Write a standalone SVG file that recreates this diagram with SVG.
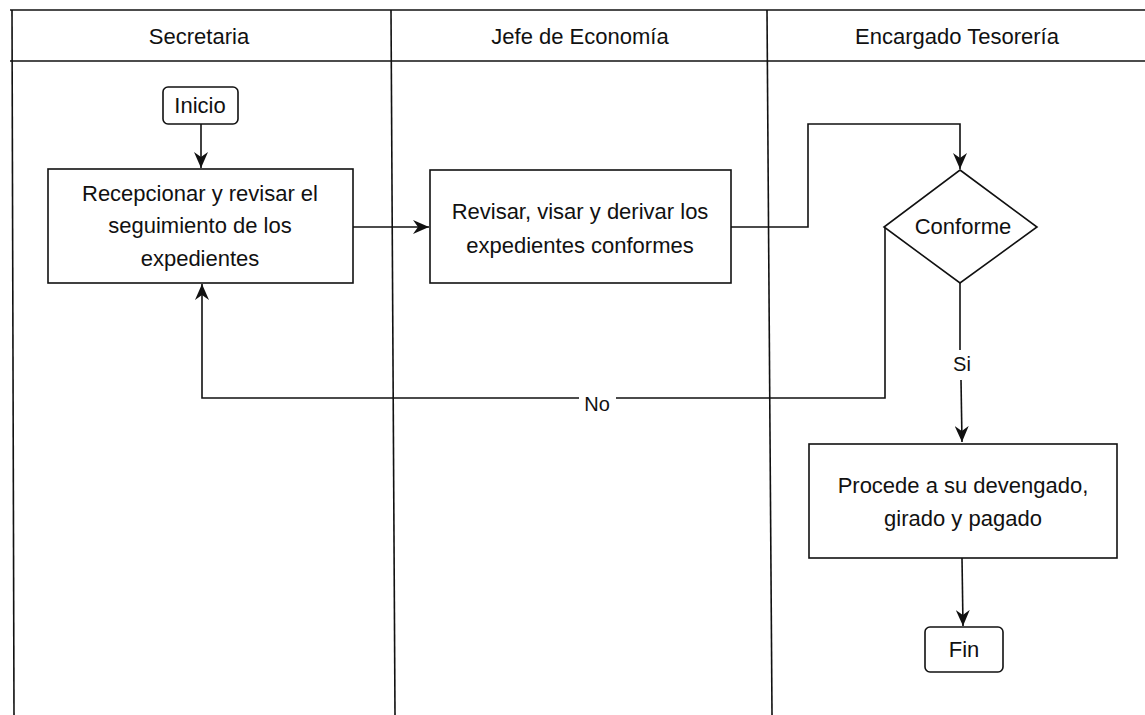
<svg xmlns="http://www.w3.org/2000/svg" width="1145" height="715" viewBox="0 0 1145 715">
<defs>
<style>
.ln{fill:none;stroke:#111;stroke-width:1.6}
.nd{fill:#fff;stroke:#111;stroke-width:1.6}
.t{font-family:"Liberation Sans",Arial,sans-serif;font-size:22px;fill:#111;text-anchor:middle;dominant-baseline:central}
.h{font-family:"Liberation Sans",Arial,sans-serif;font-size:22px;fill:#111;text-anchor:middle;dominant-baseline:central}
</style>
<marker id="ar" viewBox="0 0 16 14" refX="16" refY="7" markerWidth="16" markerHeight="14" markerUnits="userSpaceOnUse" orient="auto">
<path d="M0,0 L16,7 L0,14 L5,7 z" fill="#111"/>
</marker>
</defs>
<rect width="1145" height="715" fill="#fff"/>
<g id="lanes">
<line class="ln" x1="10" y1="10" x2="1145" y2="10"/>
<line class="ln" x1="10" y1="61" x2="1145" y2="61"/>
<line class="ln" x1="12" y1="10" x2="14" y2="715"/>
<line class="ln" x1="391" y1="10" x2="395" y2="715"/>
<line class="ln" x1="767" y1="10" x2="772" y2="715"/>
<text class="h" x="199" y="36">Secretaria</text>
<text class="h" x="580" y="36">Jefe de Economía</text>
<text class="h" x="957" y="36">Encargado Tesorería</text>
</g>
<g id="connectors">
<line class="ln" x1="201" y1="124" x2="201" y2="168" marker-end="url(#ar)"/>
<line class="ln" x1="353" y1="227" x2="429" y2="227" marker-end="url(#ar)"/>
<polyline class="ln" points="731,227 808,227 808,124 960,124 960,169" marker-end="url(#ar)"/>
<polyline class="ln" points="960,283 960,350"/>
<polyline class="ln" points="961,380 962,442" marker-end="url(#ar)"/>
<text class="t" x="962" y="364" style="font-size:20px">Si</text>
<polyline class="ln" points="885,228 885,398 616,398"/>
<polyline class="ln" points="579,398 202,398 202,284" marker-end="url(#ar)"/>
<text class="t" x="597" y="404" style="font-size:20px">No</text>
<line class="ln" x1="962" y1="558" x2="963" y2="626" marker-end="url(#ar)"/>
</g>
<g id="inicio">
<rect class="nd" x="163" y="87" width="75" height="37" rx="5"/>
<text class="t" x="200" y="105">Inicio</text>
</g>
<g id="recepcionar">
<rect class="nd" x="48" y="169" width="305" height="114"/>
<text class="t" x="200" y="193">Recepcionar y revisar el</text>
<text class="t" x="200" y="225">seguimiento de los</text>
<text class="t" x="200" y="258">expedientes</text>
</g>
<g id="revisar">
<rect class="nd" x="430" y="170" width="301" height="113"/>
<text class="t" x="580" y="211">Revisar, visar y derivar los</text>
<text class="t" x="580" y="245">expedientes conformes</text>
</g>
<g id="conforme">
<polygon class="nd" points="960,170 1037,227 960,283 884,227"/>
<text class="t" x="963" y="226">Conforme</text>
</g>
<g id="procede">
<rect class="nd" x="809" y="444" width="308" height="114"/>
<text class="t" x="963" y="485">Procede a su devengado,</text>
<text class="t" x="963" y="518">girado y pagado</text>
</g>
<g id="fin">
<rect class="nd" x="925" y="627" width="78" height="45" rx="5"/>
<text class="t" x="964" y="649">Fin</text>
</g>
</svg>
